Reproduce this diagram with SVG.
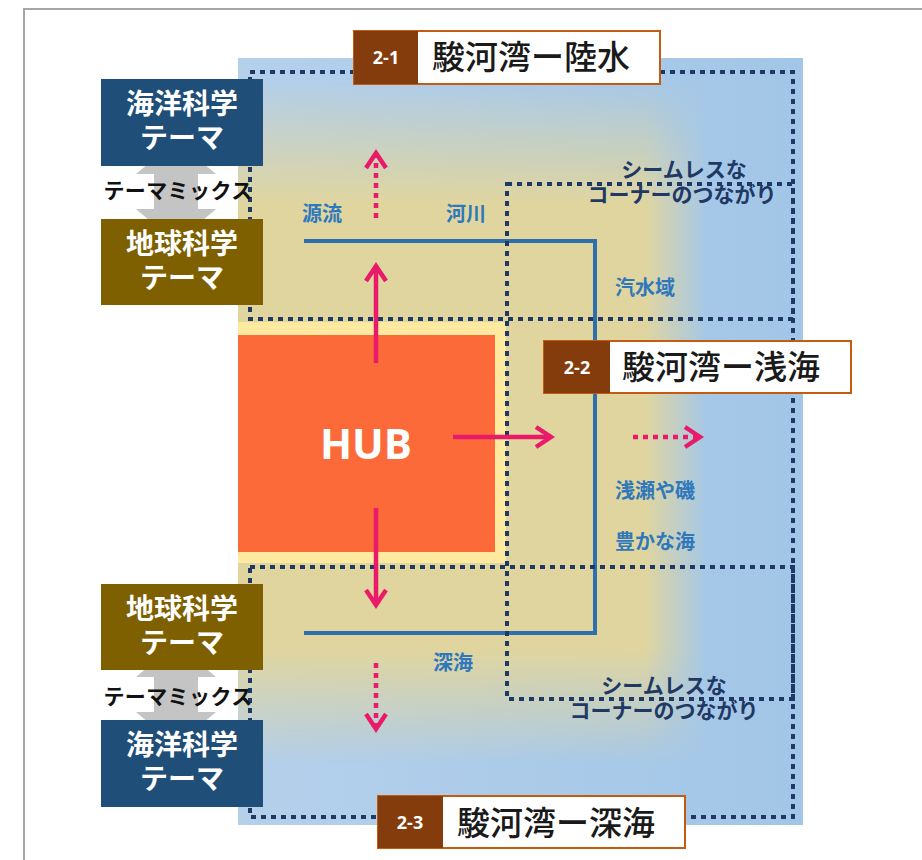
<svg xmlns="http://www.w3.org/2000/svg" width="922" height="860" viewBox="0 0 922 860">
<style>
.theme{font-family:"Noto Sans CJK JP",sans-serif;font-size:28px;font-weight:bold;fill:#ffffff;text-anchor:middle}
.mix{font-family:"Noto Sans CJK JP",sans-serif;font-size:21px;font-weight:bold;fill:#111111;text-anchor:middle;letter-spacing:0.4px}
.lbl{font-family:"Noto Sans CJK JP",sans-serif;font-size:20px;font-weight:bold;fill:#2e78bb}
.seam{font-family:"Noto Sans CJK JP",sans-serif;font-size:21px;font-weight:bold;fill:#1f3864;text-anchor:middle}
.num{font-family:"Open Sans","Liberation Sans",sans-serif;font-size:18px;font-weight:bold;fill:#ffffff;text-anchor:middle}
.title{font-family:"Noto Sans CJK JP",sans-serif;font-size:33px;font-weight:500;fill:#1a1a1a}
.dot{fill:none;stroke:#1f3864;stroke-width:4;stroke-dasharray:5 5}
.river{fill:none;stroke:#2e6fae;stroke-width:4}
.arr{fill:none;stroke:#ea1a6b;stroke-width:4.5}
.arrd{fill:none;stroke:#ea1a6b;stroke-width:4.5;stroke-dasharray:5 5}
.brown{fill:#843c0c}
.wbox{fill:#ffffff;stroke:#c55a11;stroke-width:2}
.navybox{fill:#1f4e79}
.olivebox{fill:#7f6000}
.mixarrow{fill:#c4c4c4}
</style>
<defs>
<linearGradient id="gv" x1="0" y1="58" x2="0" y2="825" gradientUnits="userSpaceOnUse">
<stop offset="0.03" stop-color="#fff" stop-opacity="0"/>
<stop offset="0.19" stop-color="#fff" stop-opacity="1"/>
<stop offset="0.77" stop-color="#fff" stop-opacity="1"/>
<stop offset="0.92" stop-color="#fff" stop-opacity="0"/>
</linearGradient>
<linearGradient id="gh" x1="238" y1="0" x2="803" y2="0" gradientUnits="userSpaceOnUse">
<stop offset="0.72" stop-color="#fff" stop-opacity="1"/>
<stop offset="0.83" stop-color="#fff" stop-opacity="0"/>
</linearGradient>
<linearGradient id="blue" x1="0" y1="0" x2="1" y2="0">
<stop offset="0" stop-color="#b5d0eb"/>
<stop offset="1" stop-color="#a2c6e7"/>
</linearGradient>
<mask id="mv"><rect x="238" y="58" width="565" height="767" fill="url(#gv)"/></mask>
<mask id="mh"><rect x="238" y="58" width="565" height="767" fill="url(#gh)"/></mask>
<marker id="chev" viewBox="0 0 20 20" refX="17" refY="10" markerWidth="20" markerHeight="20" markerUnits="userSpaceOnUse" orient="auto" overflow="visible">
<path d="M2,0 L17,10 L2,20" fill="none" stroke="#ea1a6b" stroke-width="4.5"/>
</marker>
</defs>

<rect width="922" height="860" fill="#ffffff"/>
<path d="M24,860 L24,9 L922,9" fill="none" stroke="#a6a6a6" stroke-width="2"/>

<g id="background">
<rect x="238" y="58" width="565" height="767" fill="url(#blue)"/>
<g mask="url(#mv)">
<rect x="238" y="58" width="565" height="767" fill="#e0d59f" mask="url(#mh)"/>
</g>
</g>

<g id="hub">
<rect x="238" y="322" width="268" height="241" fill="#fde99f"/>
<rect x="238" y="335" width="257" height="217" fill="#fc6a3a"/>
<text x="366" y="459" font-family="Open Sans,Liberation Sans,sans-serif" font-size="42" font-weight="bold" fill="#ffffff" text-anchor="middle">HUB</text>
</g>

<g id="river">
<path class="river" d="M304,241 L595,241 L595,633 L304,633"/>
</g>

<g id="regions">
<rect class="dot" x="250" y="72" width="543" height="247"/>
<rect class="dot" x="507" y="184" width="286" height="515"/>
<rect class="dot" x="250" y="567" width="543" height="250"/>
</g>

<g id="labels">
<text class="lbl" x="302" y="221">源流</text>
<text class="lbl" x="446" y="221">河川</text>
<text class="lbl" x="615" y="295">汽水域</text>
<text class="lbl" x="615" y="498">浅瀬や磯</text>
<text class="lbl" x="615" y="549">豊かな海</text>
<text class="lbl" x="433" y="670">深海</text>
<text class="seam" x="684" y="177">シームレスな</text>
<text class="seam" x="682" y="202">コーナーのつながり</text>
<text class="seam" x="664" y="693">シームレスな</text>
<text class="seam" x="664" y="718">コーナーのつながり</text>
</g>

<g id="connectors">
<line class="arr" x1="376" y1="363" x2="376" y2="266" marker-end="url(#chev)"/>
<line class="arrd" x1="376" y1="218" x2="376" y2="153" marker-end="url(#chev)"/>
<line class="arr" x1="453" y1="437" x2="551" y2="437" marker-end="url(#chev)"/>
<line class="arrd" x1="633" y1="437" x2="700" y2="437" marker-end="url(#chev)"/>
<line class="arr" x1="376" y1="508" x2="376" y2="605" marker-end="url(#chev)"/>
<line class="arrd" x1="376" y1="663" x2="376" y2="729" marker-end="url(#chev)"/>
</g>

<g id="title-2-1">
<rect class="wbox" x="354" y="31" width="306" height="53"/>
<rect class="brown" x="354" y="31" width="64" height="53"/>
<text class="num" x="386" y="64">2-1</text>
<text class="title" x="432" y="69">駿河湾ー陸水</text>
</g>
<g id="title-2-2">
<rect class="wbox" x="544" y="341" width="307" height="52"/>
<rect class="brown" x="544" y="341" width="66" height="52"/>
<text class="num" x="577" y="374">2-2</text>
<text class="title" x="622" y="379">駿河湾ー浅海</text>
</g>
<g id="title-2-3">
<rect class="wbox" x="378" y="796" width="307" height="52"/>
<rect class="brown" x="378" y="796" width="65" height="52"/>
<text class="num" x="410" y="829">2-3</text>
<text class="title" x="457" y="835">駿河湾ー深海</text>
</g>

<g id="theme-mix-top">
<polygon class="mixarrow" points="176,140 216,174 198,174 198,209 216,209 176,243 136,209 154,209 154,174 136,174"/>
<text class="mix" x="178" y="198">テーマミックス</text>
</g>
<g id="ocean-theme-top">
<rect class="navybox" x="101" y="79" width="162" height="87"/>
<text class="theme" x="182" y="114">海洋科学</text>
<text class="theme" x="182" y="148">テーマ</text>
</g>
<g id="earth-theme-top">
<rect class="olivebox" x="101" y="219" width="162" height="86"/>
<text class="theme" x="182" y="254">地球科学</text>
<text class="theme" x="182" y="288">テーマ</text>
</g>

<g id="theme-mix-bottom">
<polygon class="mixarrow" points="176,643 216,677 198,677 198,712 216,712 176,746 136,712 154,712 154,677 136,677"/>
<text class="mix" x="178" y="704">テーマミックス</text>
</g>
<g id="earth-theme-bottom">
<rect class="olivebox" x="101" y="584" width="162" height="86"/>
<text class="theme" x="182" y="619">地球科学</text>
<text class="theme" x="182" y="653">テーマ</text>
</g>
<g id="ocean-theme-bottom">
<rect class="navybox" x="101" y="720" width="162" height="87"/>
<text class="theme" x="182" y="755">海洋科学</text>
<text class="theme" x="182" y="789">テーマ</text>
</g>
</svg>
